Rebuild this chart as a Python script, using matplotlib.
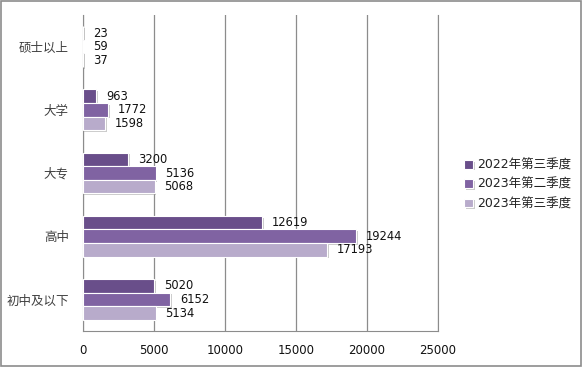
import matplotlib.pyplot as plt
import matplotlib.patheffects as pe
import numpy as np

plt.rcParams['font.family'] = ['DejaVu Sans', 'Noto Sans CJK SC']

categories = ['硕士以上', '大学', '大专', '高中', '初中及以下']
series_names = ['2022年第三季度', '2023年第二季度', '2023年第三季度']
q3_2022 = [23, 963, 3200, 12619, 5020]
q2_2023 = [59, 1772, 5136, 19244, 6152]
q3_2023 = [37, 1598, 5068, 17193, 5134]
colors = ['#694e8a', '#8063a2', '#b8abcb']

fig = plt.figure(figsize=(5.83, 3.67), dpi=100)
ax = fig.add_axes([0.142, 0.098, 0.609, 0.861])

y = np.arange(len(categories))
h = 0.215
shadow = [pe.SimplePatchShadow(offset=(1.2, -1.2), shadow_rgbFace='#999999', alpha=0.5), pe.Normal()]

for i, (vals, col, name) in enumerate(zip([q3_2022, q2_2023, q3_2023], colors, series_names)):
    pos = y + (i - 1) * h
    bars = ax.barh(pos, vals, height=h, color=col, edgecolor='white', linewidth=0.8,
                   label=name, zorder=3)
    for b in bars:
        b.set_path_effects(shadow)
    for p, v in zip(pos, vals):
        ax.annotate(str(v), (v, p), xytext=(7, 0), textcoords='offset points',
                    va='center', ha='left', fontsize=8.3, color='#111111', zorder=4)

ax.set_xlim(0, 25000)
ax.set_ylim(len(categories) - 0.5, -0.5)
ax.set_xticks(range(0, 25001, 5000))
ax.set_yticks(y)
ax.set_yticklabels(categories, family=['Noto Sans CJK SC'], fontsize=9, color='#404040')
ax.tick_params(axis='x', labelsize=8.5, colors='#111111', length=0, pad=9)
ax.tick_params(axis='y', length=0, pad=10)
ax.grid(axis='x', color='#8c8c8c', linewidth=0.9, zorder=0)
ax.spines['top'].set_visible(False)
for s in ['left', 'bottom', 'right']:
    ax.spines[s].set_color('#8c8c8c')

leg = fig.legend(loc='upper left', bbox_to_anchor=(0.777, 0.598), frameon=False,
                 handlelength=0.7, handleheight=0.7, handletextpad=0.3,
                 labelspacing=0.5, prop={'family': ['DejaVu Sans', 'Noto Sans CJK SC'], 'size': 9})
for t in leg.get_texts():
    t.set_color('#222222')

fig.patches.append(plt.Rectangle((0.002, 0.003), 0.995, 0.993, transform=fig.transFigure,
                                 fill=False, edgecolor='#8c8c8c', linewidth=1.2))

fig.savefig('out.png', dpi=100)
